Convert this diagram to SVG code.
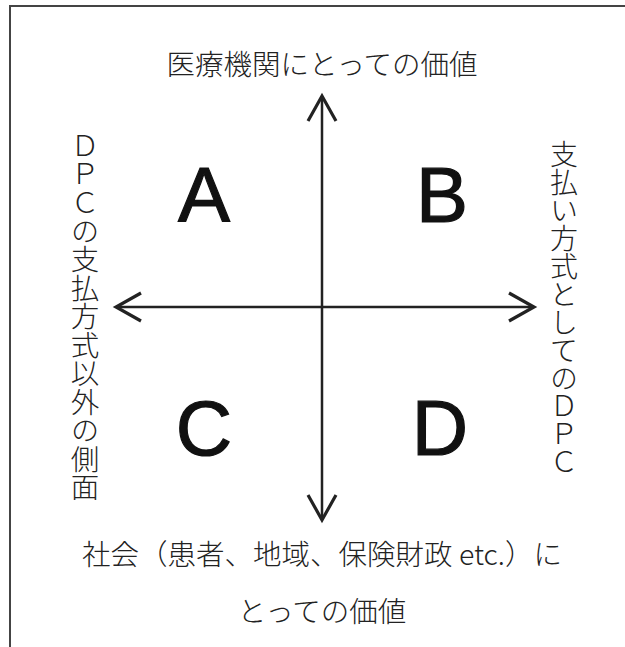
<svg xmlns="http://www.w3.org/2000/svg" width="625" height="647" viewBox="0 0 625 647">
<style>
.jp{font-family:"Noto Sans CJK JP","Noto Sans",sans-serif;fill:#222;font-size:28.5px;font-weight:300}
.vt{writing-mode:vertical-rl;text-orientation:upright}
.big{font-family:"Liberation Sans",Arial,sans-serif;font-size:78px;fill:#111;stroke:#111;stroke-width:1.2;text-anchor:middle}
.ax{stroke:#222;stroke-width:2.5;fill:none}
</style>
<defs>
<marker id="chev" markerUnits="userSpaceOnUse" markerWidth="40" markerHeight="40" viewBox="-30 -20 40 40" refX="0" refY="0" orient="auto-start-reverse" overflow="visible">
<path d="M-25,-14 L0,0 L-25,14" fill="none" stroke="#222" stroke-width="3.2" stroke-linejoin="miter"/>
</marker>
</defs>
<rect width="625" height="647" fill="#fff"/>
<g id="frame">
<path d="M10,647 V6 H625" fill="none" stroke="#444" stroke-width="2"/>
</g>
<g id="connectors">
<line class="ax" x1="322" y1="520" x2="322" y2="96" marker-start="url(#chev)" marker-end="url(#chev)"/>
<line class="ax" x1="116" y1="307" x2="534" y2="307" marker-start="url(#chev)" marker-end="url(#chev)"/>
</g>
<g id="label-top"><text class="jp" x="322" y="75" text-anchor="middle">医療機関にとっての価値</text></g>
<g id="label-bottom">
<text class="jp" x="322" y="565" text-anchor="middle">社会（患者、地域、保険財政 etc.）に</text>
<text class="jp" x="322" y="622" text-anchor="middle">とっての価値</text>
</g>
<g id="label-left"><text class="jp vt" x="85" y="131">ＤＰＣの支払方式以外の側面</text></g>
<g id="label-right"><text class="jp vt" x="564" y="140" style="font-size:28px">支払い方式としてのＤＰＣ</text></g>
<g id="node-A"><text class="big" x="204" y="222">A</text></g>
<g id="node-B"><text class="big" x="442" y="222">B</text></g>
<g id="node-C"><text class="big" x="204" y="455">C</text></g>
<g id="node-D"><text class="big" x="440" y="455">D</text></g>
</svg>
